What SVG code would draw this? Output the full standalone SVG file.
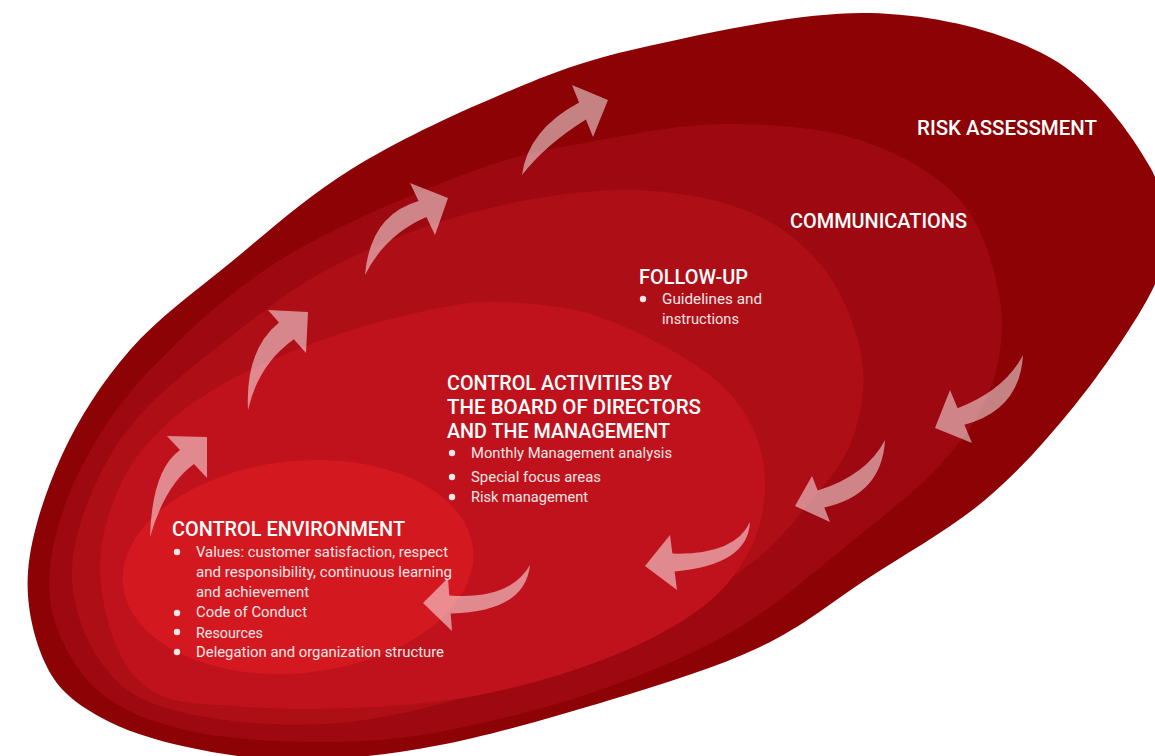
<svg xmlns="http://www.w3.org/2000/svg" width="1155" height="756" viewBox="0 0 1155 756">
<style>
.h{font-family:Roboto,"Liberation Sans",sans-serif;font-weight:500;font-size:21px;fill:#fff}
.b{font-family:Roboto,"Liberation Sans",sans-serif;font-weight:400;font-size:15px;fill:#f7e6e6}
.dot{fill:#f7e6e6}
.arrow{fill:#fff;fill-opacity:.5}
</style>
<rect width="1155" height="756" fill="#fff"/>
<g id="risk-assessment">
<path fill="#8c0205" d="M28,572 C30.5,536.7 45,492 62,455 S102,382 130,350 S193.3,293 230,263 S305,198 350,170 S451.7,115.3 500,95 S578.5,61.7 640,48 S800.8,11.5 869,13 S1002.2,31.3 1049,57 S1131.5,134.8 1150,167 S1160.5,227.8 1160,250 S1161.2,274.2 1147,300 S1102,371.7 1075,405 S1019.2,471.3 985,500 S907.5,552.5 870,577 S803.3,626.5 760,647 S663.3,683.7 610,700 S491.7,735 440,745 S342.2,759.7 300,760 S220.3,754.2 187,747 S123.3,730.3 100,717 S59,691.2 47,667 S25.5,607.3 28,572 Z"/>
<text class="h" x="917" y="135" textLength="180" lengthAdjust="spacingAndGlyphs">RISK ASSESSMENT</text>
</g>
<g id="communications">
<path fill="#9e0810" d="M50,567 C53,538.7 63.3,502.8 80,470 S116.7,405 150,370 S226.7,293 280,260 S416.7,192 470,172 S557.2,148 600,140 S683.7,124 727,124 S821.2,127.3 860,140 S936.7,173.3 960,200 S995,268.3 1000,300 S1000,362.5 990,390 S963.3,439.5 940,465 S884.2,515.5 850,543 S776.7,605.5 735,630 S647.5,673.3 600,690 S495,721.3 450,730 S371.7,741.5 330,742 S236.7,740 200,733 S133,715.5 110,700 S72,662.2 62,640 S47,595.3 50,567 Z"/>
<text class="h" x="790" y="228" textLength="177" lengthAdjust="spacingAndGlyphs">COMMUNICATIONS</text>
</g>
<g id="follow-up">
<path fill="#ae0e16" d="M72,567 C73.2,541.2 83.7,510.3 95,485 S119.2,438.3 140,415 S188.3,369.5 220,345 S288.3,290 330,268 S421.7,226 470,213 S574.2,190.5 620,190 S710.8,196.7 745,210 S805.5,245 825,270 S857.5,331.7 862,360 S860.7,416.3 852,440 S827.8,480.7 810,502 S776.7,545 745,568 S662.5,619.7 620,640 S535,676.3 490,690 S394.2,717 350,722 S260.8,724.5 225,720 S157.8,708.3 135,695 S98.5,661.3 88,640 S70.8,592.8 72,567 Z"/>
<text class="h" x="639" y="284" textLength="109" lengthAdjust="spacingAndGlyphs">FOLLOW-UP</text>
<circle class="dot" cx="643" cy="299" r="3.2"/>
<text class="b" x="662" y="304" textLength="100" lengthAdjust="spacingAndGlyphs">Guidelines and</text>
<text class="b" x="662" y="324" textLength="77" lengthAdjust="spacingAndGlyphs">instructions</text>
</g>
<g id="control-activities">
<path fill="#c0121c" d="M100,567 C100,540.3 108,512.8 118,490 S141.3,448.3 160,430 S201.7,395.5 230,380 S296.7,348.7 330,337 S401.7,315.8 430,310 S472.2,301 500,302 S564.2,305.3 597,316 S672,349.2 697,366 S735.7,398 747,417 S764.2,458.7 765,480 S762,524.2 752,545 S728.7,586.3 705,605 S647.5,642 610,657 S523,686.5 480,695 S392.8,706.2 352,708 S267,708.2 235,706 S179.5,704.3 160,695 S128,671.3 118,650 S100,593.7 100,567 Z"/>
<text class="h" x="447" y="390" textLength="225" lengthAdjust="spacingAndGlyphs">CONTROL ACTIVITIES BY</text>
<text class="h" x="447" y="414" textLength="254" lengthAdjust="spacingAndGlyphs">THE BOARD OF DIRECTORS</text>
<text class="h" x="447" y="438" textLength="223" lengthAdjust="spacingAndGlyphs">AND THE MANAGEMENT</text>
<circle class="dot" cx="452" cy="453" r="3.2"/>
<circle class="dot" cx="452" cy="477" r="3.2"/>
<circle class="dot" cx="452" cy="497" r="3.2"/>
<text class="b" x="471" y="458" textLength="201" lengthAdjust="spacingAndGlyphs">Monthly Management analysis</text>
<text class="b" x="471" y="482" textLength="130" lengthAdjust="spacingAndGlyphs">Special focus areas</text>
<text class="b" x="471" y="502" textLength="117" lengthAdjust="spacingAndGlyphs">Risk management</text>
</g>
<g id="control-environment">
<ellipse fill="#d41820" cx="298" cy="567" rx="176" ry="106" transform="rotate(-6 298 567)"/>
<text class="h" x="172" y="536" textLength="233" lengthAdjust="spacingAndGlyphs">CONTROL ENVIRONMENT</text>
<circle class="dot" cx="177" cy="552" r="3.2"/>
<circle class="dot" cx="177" cy="613" r="3.2"/>
<circle class="dot" cx="177" cy="632" r="3.2"/>
<circle class="dot" cx="177" cy="652" r="3.2"/>
<text class="b" x="196" y="557" textLength="252" lengthAdjust="spacingAndGlyphs">Values: customer satisfaction, respect</text>
<text class="b" x="196" y="577" textLength="256" lengthAdjust="spacingAndGlyphs">and responsibility, continuous learning</text>
<text class="b" x="196" y="597" textLength="113" lengthAdjust="spacingAndGlyphs">and achievement</text>
<text class="b" x="196" y="617" textLength="111" lengthAdjust="spacingAndGlyphs">Code of Conduct</text>
<text class="b" x="196" y="638" textLength="67" lengthAdjust="spacingAndGlyphs">Resources</text>
<text class="b" x="196" y="657" textLength="248" lengthAdjust="spacingAndGlyphs">Delegation and organization structure</text>
</g>
<g id="connectors">
<path class="arrow" d="M150,537 Q152,470 180,450 L167,436 L207,437 L207,478 L194,464 Q165,485 150,537 Z"/>
<path class="arrow" d="M248,410 Q245,350 279,322.5 L268,310 L308,312 L306,353 L293.8,339.2 Q258,365 248,410 Z"/>
<path class="arrow" d="M365,275 Q370,215 418.6,200.9 L410,183 L448,198 L435,235 L426.4,217.1 Q385,235 365,275 Z"/>
<path class="arrow" d="M522,175 Q528,130 579.1,102.6 L572,85 L608,100 L593,137 L585.9,119.4 Q545,145 522,175 Z"/>
<path class="arrow" d="M1023,355 Q1005,390 957.6,408.2 L950,390 L935,428 L972,443 L964.4,424.8 Q1020,410 1023,355 Z"/>
<path class="arrow" d="M885,440 Q867,475 817.7,490.6 L812,476 L795,506 L830,522 L824.3,507.4 Q882,495 885,440 Z"/>
<path class="arrow" d="M750,522 Q735,555 672.4,553.6 L670,535 L645,566 L677,590 L674.6,571.4 Q748,565 750,522 Z"/>
<path class="arrow" d="M530,565 Q510,600 449.3,595.5 L448,578 L423,603 L452,631 L450.7,613.5 Q525,612 530,565 Z"/>
</g>
</svg>
